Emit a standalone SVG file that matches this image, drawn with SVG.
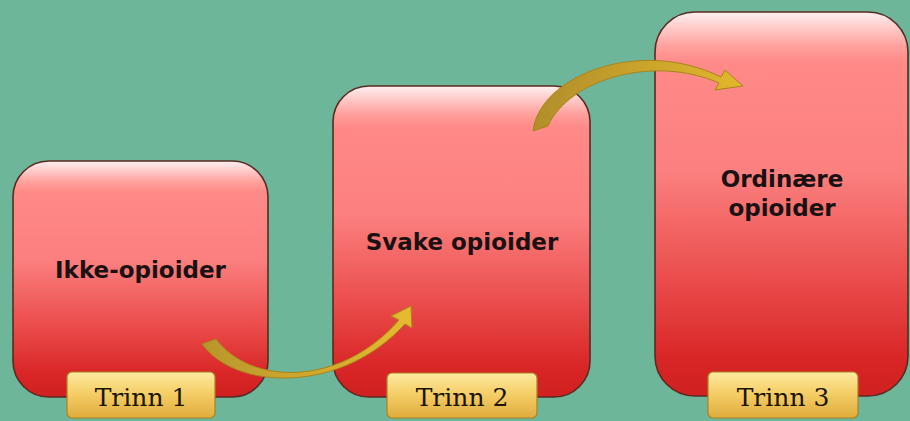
<svg xmlns="http://www.w3.org/2000/svg" width="910" height="421" viewBox="0 0 910 421">
  <defs>
    <linearGradient id="boxFill" x1="0" y1="0" x2="0" y2="1">
      <stop offset="0" stop-color="#fdf0f0"/>
      <stop offset="0.09" stop-color="#ffa09c"/>
      <stop offset="0.13" stop-color="#ff8a87"/>
      <stop offset="0.42" stop-color="#fb7f7e"/>
      <stop offset="0.72" stop-color="#e94848"/>
      <stop offset="0.9" stop-color="#d92626"/>
      <stop offset="1" stop-color="#d02020"/>
    </linearGradient>
    <linearGradient id="tagFill" x1="0" y1="0" x2="0" y2="1">
      <stop offset="0" stop-color="#fdeaa0"/>
      <stop offset="0.45" stop-color="#f5cf68"/>
      <stop offset="1" stop-color="#e0ac3c"/>
    </linearGradient>
    <linearGradient id="arrowFill1" x1="0" y1="0" x2="1" y2="0">
      <stop offset="0" stop-color="#b8962c"/>
      <stop offset="1" stop-color="#e6bb2e"/>
    </linearGradient>
    <linearGradient id="arrowFill2" x1="0" y1="0" x2="1" y2="0">
      <stop offset="0" stop-color="#b08e2a"/>
      <stop offset="1" stop-color="#e2b72c"/>
    </linearGradient>
  </defs>
  <style>
    .box { fill: url(#boxFill); stroke: #5b2a22; stroke-width: 1.6; }
    .tag { fill: url(#tagFill); stroke: #a98224; stroke-width: 1.2; }
    .label { font-family: "DejaVu Sans", "Liberation Sans", sans-serif; font-weight: bold; font-size: 23px; fill: #1a1212; text-anchor: middle; }
    .tagText { font-family: "DejaVu Serif", "Liberation Serif", serif; font-size: 25px; fill: #1c1408; text-anchor: middle; }
    .arrow { stroke: #a8841c; stroke-width: 1; stroke-linejoin: round; }
  </style>
  <rect x="0" y="0" width="910" height="421" fill="#6db69a"/>

  <g id="node-trinn1">
    <rect class="box" x="13" y="161" width="255" height="236" rx="36" ry="36"/>
    <text class="label" x="140.5" y="278">Ikke-opioider</text>
    <rect class="tag" x="67" y="372" width="148" height="46" rx="5" ry="5"/>
    <text class="tagText" x="141" y="406">Trinn 1</text>
  </g>

  <g id="node-trinn2">
    <rect class="box" x="333" y="86" width="257" height="311" rx="36" ry="36"/>
    <text class="label" x="462" y="250">Svake opioider</text>
    <rect class="tag" x="387" y="373" width="150" height="45" rx="5" ry="5"/>
    <text class="tagText" x="462" y="406">Trinn 2</text>
  </g>

  <g id="node-trinn3">
    <rect class="box" x="655" y="12" width="253" height="384" rx="40" ry="40"/>
    <text class="label" x="782" y="187">Ordinære</text>
    <text class="label" x="782" y="216">opioider</text>
    <rect class="tag" x="708" y="372" width="150" height="46" rx="5" ry="5"/>
    <text class="tagText" x="783" y="406">Trinn 3</text>
  </g>

  <g id="connectors">
    <path class="arrow" fill="url(#arrowFill1)" d="M 202 344 C 235 390, 340 395, 405 324 L 412 328 L 411 306 L 391 316 L 399 320 C 340 388, 250 385, 216 339 Z"/>
    <path class="arrow" fill="url(#arrowFill2)" d="M 533 131 C 540 75, 640 37, 721 77 L 725 70 L 743 86 L 715 90 L 719 83 C 655 55, 570 78, 548 126 Z"/>
  </g>
</svg>
